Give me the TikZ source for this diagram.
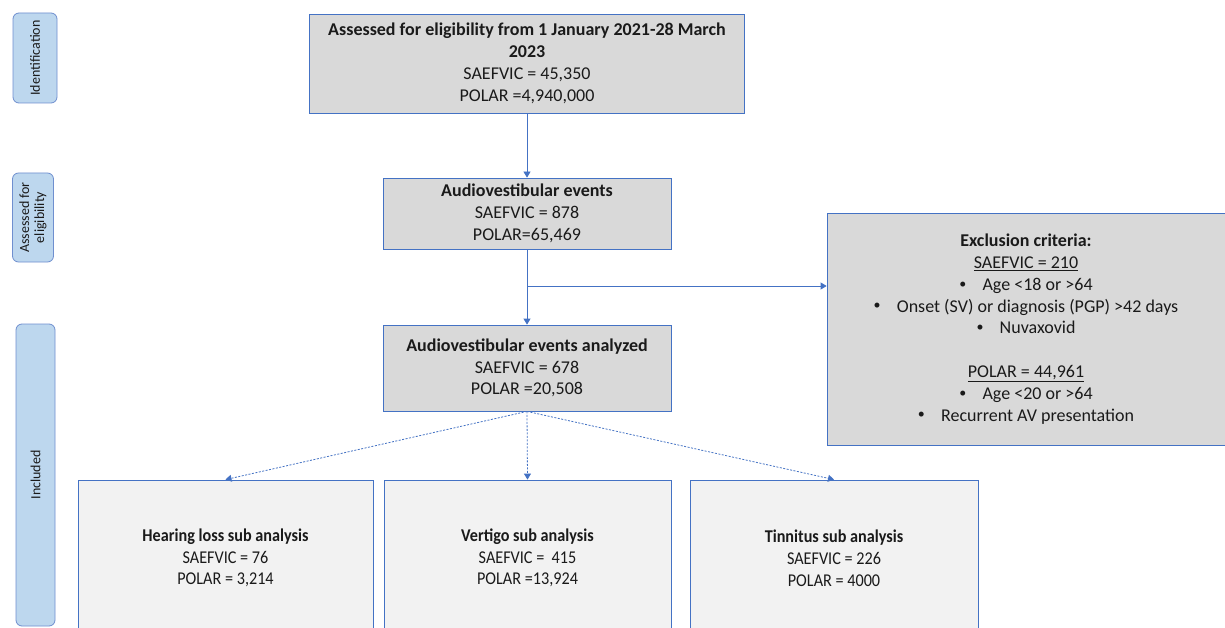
\documentclass[tikz,border=0pt]{standalone}
\usepackage{fontspec}
\setmainfont{Carlito}
\newfontfamily\condfont[FakeStretch=0.9]{Carlito}
\usetikzlibrary{arrows.meta}
\definecolor{edgeblue}{HTML}{4472C4}
\definecolor{boxgray}{HTML}{D9D9D9}
\definecolor{subgray}{HTML}{F2F2F2}
\definecolor{sidefill}{HTML}{BDD7EE}
\definecolor{sideedge}{HTML}{6F8FCF}
\definecolor{dashblue}{HTML}{7F9FD6}
\definecolor{txt}{HTML}{1A1A1A}
\newcommand{\bul}{\raisebox{0.12em}{\fontsize{14}{14}\selectfont•}\hspace{0.9em}}
\begin{document}
\begin{tikzpicture}[x=1pt,y=-1pt,
  box/.style={draw=edgeblue, fill=boxgray, line width=0.8pt, inner sep=0pt, align=center, text=txt,
    font=\fontsize{18}{21.8}\selectfont},
  subbox/.style={draw=edgeblue, fill=subgray, line width=0.8pt, inner sep=0pt},
  subtext/.style={align=center, text=txt, font=\condfont\fontsize{18}{21.8}\selectfont},
  side/.style={draw=sideedge, fill=sidefill, rounded corners=6pt, line width=0.8pt, inner sep=0pt},
  sidetext/.style={rotate=90, align=center, text=txt, font=\fontsize{14}{15}\selectfont},
  conn/.style={draw=edgeblue, line width=0.8pt, -{Triangle[width=7pt,length=6pt]}},
  dconn/.style={draw=dashblue, line width=0.8pt, dash pattern=on 2pt off 1.5pt, -{Triangle[width=7pt,length=6pt]}, edgeblue}
]
\useasboundingbox (0,0) rectangle (1225,628);
\fill[white] (0,0) rectangle (1225,628);
\clip (0,0) rectangle (1225,628);

% side labels
\node[side, minimum width=44, minimum height=90] (id) at (35,58) {};
\node[sidetext] (idt) at (id.center) {Identification};
\node[side, minimum width=41, minimum height=89] (ae) at (33,217.5) {};
\node[sidetext] (aet) at (ae.center) {Assessed for\\eligibility};
\node[side, minimum width=39, minimum height=302] (inc) at (35.5,475) {};
\node[sidetext] (inct) at (inc.center) {Included};

% main boxes
\node[box, minimum width=435, minimum height=99] (top) at (527,63.5)
  {\textbf{Assessed for eligibility from 1 January 2021-28 March}\\\textbf{2023}\\SAEFVIC = 45,350\\POLAR =4,940,000};
\node[box, minimum width=288, minimum height=71] (av) at (527,213.5)
  {\textbf{Audiovestibular events}\\SAEFVIC = 878\\POLAR=65,469};
\node[box, minimum width=288, minimum height=86] (an) at (527,368)
  {\textbf{Audiovestibular events analyzed}\\SAEFVIC = 678\\POLAR =20,508};
\node[box, minimum width=398, minimum height=232] (ex) at (1026,329)
  {\textbf{Exclusion criteria:}\\
   \underline{SAEFVIC = 210}\\
   \bul Age <18 or >64\\
   \bul Onset (SV) or diagnosis (PGP) >42 days\\
   \bul Nuvaxovid\\
   \mbox{}\\
   \underline{POLAR = 44,961}\\
   \bul Age <20 or >64\\
   \bul Recurrent AV presentation};

% sub-analysis boxes
\node[subbox, minimum width=295, minimum height=300] (hl) at (225.5,630) {};
\node[subbox, minimum width=287, minimum height=300] (vt) at (527.5,630) {};
\node[subbox, minimum width=288, minimum height=300] (tn) at (834,630) {};
\node[subtext] (hlt) at (225.5,558) {\textbf{Hearing loss sub analysis}\\SAEFVIC = 76\\POLAR = 3,214};
\node[subtext] (vtt) at (527.5,558) {\textbf{Vertigo sub analysis}\\SAEFVIC = \ 415\\POLAR =13,924};
\node[subtext] (tnt) at (834,558) {\textbf{Tinnitus sub analysis}\\SAEFVIC = 226\\POLAR = 4000};

% connectors
\draw[conn] (top.south) -- (av.north);
\draw[conn] (av.south) -- (an.north);
\coordinate (br) at (527,286);
\draw[conn] (br) -- (br -| ex.west);
\draw[dconn] (an.south) -- (hl.north);
\draw[dconn] (an.south) -- (vt.north);
\draw[dconn] (an.south) -- (tn.north);
\end{tikzpicture}
\end{document}
